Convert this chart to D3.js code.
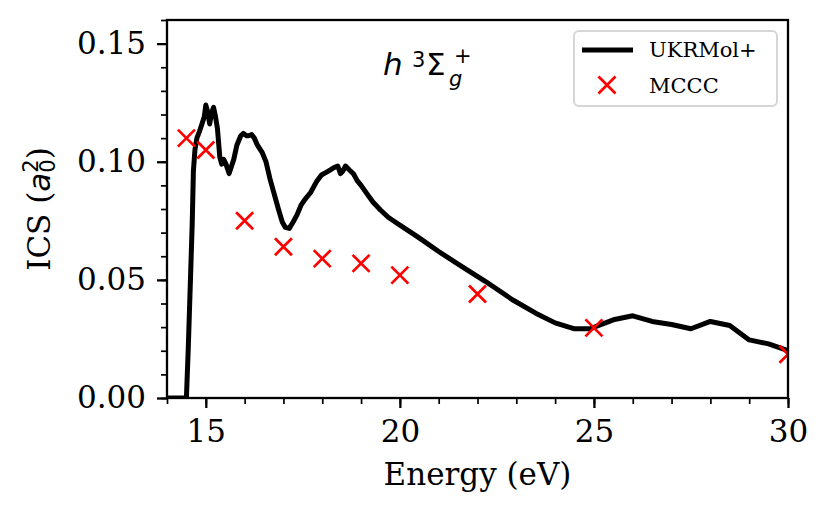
<!DOCTYPE html>
<html>
<head>
<meta charset="utf-8">
<script src="https://cdn.jsdelivr.net/npm/d3@7"></script>
<style>
  body { margin: 0; background: #fff; }
  svg { display: block; }
  text { font-family: "DejaVu Serif", serif; }
</style>
</head>
<body>
<svg id="chart"></svg>
<script>
/* données */
const ukrEnergy = [14.0, 14.46, 14.5, 14.55, 14.6, 14.65, 14.68, 14.72, 14.77, 14.84, 14.9, 14.96, 15.0, 15.05, 15.1, 15.15, 15.2, 15.25, 15.3, 15.36, 15.41, 15.46, 15.52, 15.6, 15.66, 15.72, 15.8, 15.9, 15.97, 16.05, 16.1, 16.18, 16.25, 16.33, 16.45, 16.55, 16.65, 16.75, 16.87, 16.97, 17.05, 17.15, 17.25, 17.35, 17.45, 17.55, 17.7, 17.85, 17.98, 18.1, 18.2, 18.3, 18.4, 18.47, 18.53, 18.6, 18.7, 18.8, 18.9, 19.0, 19.15, 19.3, 19.5, 19.7, 19.87, 20.0, 20.45, 21.0, 21.6, 22.2, 22.9, 23.5, 24.0, 24.5, 24.9, 25.5, 26.0, 26.5, 27.0, 27.5, 28.0, 28.5, 29.0, 29.5, 30.0]
const ukrValues = [0.0, 0.0, 0.0, 0.022, 0.048, 0.074, 0.096, 0.105, 0.110, 0.113, 0.116, 0.119, 0.124, 0.121, 0.116, 0.121, 0.123, 0.119, 0.114, 0.102, 0.099, 0.101, 0.099, 0.095, 0.098, 0.101, 0.107, 0.111, 0.112, 0.111, 0.111, 0.1115, 0.110, 0.107, 0.104, 0.100, 0.093, 0.087, 0.080, 0.0745, 0.0722, 0.0718, 0.0745, 0.0775, 0.0815, 0.0840, 0.0870, 0.0915, 0.0944, 0.0955, 0.0965, 0.0975, 0.0982, 0.0950, 0.0960, 0.0982, 0.0965, 0.0950, 0.0920, 0.0900, 0.0865, 0.0831, 0.0796, 0.0765, 0.0746, 0.0732, 0.0683, 0.0620, 0.0556, 0.0494, 0.0416, 0.0359, 0.0318, 0.0293, 0.0293, 0.0331, 0.0348, 0.0324, 0.0311, 0.0293, 0.0324, 0.0307, 0.0246, 0.0229, 0.0200]

const mcccEnergy = [14.5, 15, 16, 17, 18, 19, 20, 22, 25, 30]
const mcccValues = [0.110, 0.105, 0.075, 0.064, 0.059, 0.057, 0.052, 0.044, 0.0297, 0.0185]

const xTicks = [15, 20, 25, 30]
const yTicks = [0.00, 0.05, 0.10, 0.15]

const width = 830, height = 515
const margin = {top: 20, right: 42, bottom: 117, left: 167}
const innerW = width - margin.left - margin.right
const innerH = height - margin.top - margin.bottom

const svg = d3.select('#chart')
    .attr('width', width)
    .attr('height', height)

/* échelles */
const xScale = d3.scaleLinear().domain([14, 30]).range([margin.left, margin.left + innerW])
const yScale = d3.scaleLinear().domain([0, 0.16]).range([margin.top + innerH, margin.top])

svg.append('defs').append('clipPath')
    .attr('id', 'clip')
    .append('rect')
    .attr('x', margin.left).attr('y', margin.top)
    .attr('width', innerW).attr('height', innerH)

/* courbe UKRMol+ */
const line = d3.line()
    .x((d, i) => xScale(ukrEnergy[i]))
    .y(d => yScale(d))

svg.append('path')
    .datum(ukrValues)
    .attr('clip-path', 'url(#clip)')
    .attr('fill', 'none')
    .attr('stroke', '#000')
    .attr('stroke-width', 5)
    .attr('stroke-linejoin', 'round')
    .attr('d', line)

/* croix MCCC */
const s = 8.5
const cross = (x, y) => `M${x - s},${y - s}L${x + s},${y + s}M${x - s},${y + s}L${x + s},${y - s}`

svg.append('g')
    .attr('clip-path', 'url(#clip)')
    .selectAll('path')
    .data(mcccValues)
    .enter()
    .append('path')
    .attr('d', (d, i) => cross(xScale(mcccEnergy[i]), yScale(d)))
    .attr('stroke', '#ff0000')
    .attr('stroke-width', 2.7)
    .attr('fill', 'none')

/* axes */
const xAxis = d3.axisBottom(xScale).tickValues(xTicks).tickFormat(d3.format('d'))
    .tickSize(10).tickPadding(12)
const xMinor = d3.axisBottom(xScale).tickValues(d3.range(14, 31, 1)).tickFormat('')
    .tickSize(6)
const yAxis = d3.axisLeft(yScale).tickValues(yTicks).tickFormat(d3.format('.2f'))
    .tickSize(10).tickPadding(11)
const yMinor = d3.axisLeft(yScale).tickValues(d3.range(0, 17).map(d => d / 100)).tickFormat('')
    .tickSize(6)

const styleAxis = (g, w) => {
    g.select('.domain').remove()
    g.selectAll('line').attr('stroke', '#000').attr('stroke-width', w)
    g.selectAll('text').attr('fill', '#000').style('font-size', '31px')
        .style('font-family', '"DejaVu Serif", serif')
}

svg.append('g').attr('transform', `translate(0,${margin.top + innerH})`).call(xMinor).call(styleAxis, 1.7)
svg.append('g').attr('transform', `translate(0,${margin.top + innerH})`).call(xAxis).call(styleAxis, 2.3)
svg.append('g').attr('transform', `translate(${margin.left},0)`).call(yMinor).call(styleAxis, 1.7)
svg.append('g').attr('transform', `translate(${margin.left},0)`).call(yAxis).call(styleAxis, 2.3)

/* cadre */
svg.append('rect')
    .attr('x', margin.left).attr('y', margin.top)
    .attr('width', innerW).attr('height', innerH)
    .attr('fill', 'none')
    .attr('stroke', '#000')
    .attr('stroke-width', 2.3)

/* titres des axes */
svg.append('text')
    .attr('x', margin.left + innerW / 2)
    .attr('y', 485)
    .attr('text-anchor', 'middle')
    .style('font-size', '31px')
    .text('Energy (eV)')

const yLab = svg.append('text')
    .attr('transform', `translate(50,${margin.top + innerH / 2}) rotate(-90)`)
    .attr('text-anchor', 'middle')
    .style('font-size', '31px')
yLab.append('tspan').text('ICS (')
yLab.append('tspan').style('font-family', '"DejaVu Sans", sans-serif').style('font-style', 'italic').text('a')
yLab.append('tspan').style('font-family', '"DejaVu Sans", sans-serif').style('font-size', '21px').attr('dy', 5).text('0')
yLab.append('tspan').style('font-family', '"DejaVu Sans", sans-serif').style('font-size', '21px').attr('dx', -13.3).attr('dy', -17).text('2')
yLab.append('tspan').attr('dy', 12).text(')')

/* étiquette de l'état */
const lab = svg.append('text')
    .style('font-family', '"DejaVu Sans", sans-serif')
    .style('font-size', '31px')
lab.append('tspan').attr('x', 383).attr('y', 75).style('font-style', 'italic').text('h')
lab.append('tspan').attr('x', 412).attr('y', 66.5).style('font-size', '21px').text('3')
lab.append('tspan').attr('x', 426).attr('y', 75).text('Σ')
lab.append('tspan').attr('x', 449).attr('y', 86).style('font-size', '21px').style('font-style', 'italic').text('g')
lab.append('tspan').attr('x', 454).attr('y', 63).style('font-size', '21px').text('+')

/* légende */
const legend = svg.append('g')
legend.append('rect')
    .attr('x', 574).attr('y', 31)
    .attr('width', 203).attr('height', 75)
    .attr('rx', 5)
    .attr('fill', '#fff')
    .attr('fill-opacity', 0.8)
    .attr('stroke', '#d6d6d6')
    .attr('stroke-width', 2)
legend.append('line')
    .attr('x1', 582).attr('x2', 633)
    .attr('y1', 50).attr('y2', 50)
    .attr('stroke', '#000').attr('stroke-width', 5)
legend.append('path')
    .attr('d', cross(607, 85))
    .attr('stroke', '#ff0000').attr('stroke-width', 2.7)
legend.append('text').attr('x', 649).attr('y', 57).style('font-size', '21px').text('UKRMol+')
legend.append('text').attr('x', 649).attr('y', 93).style('font-size', '21px').text('MCCC')
</script>
</body>
</html>
